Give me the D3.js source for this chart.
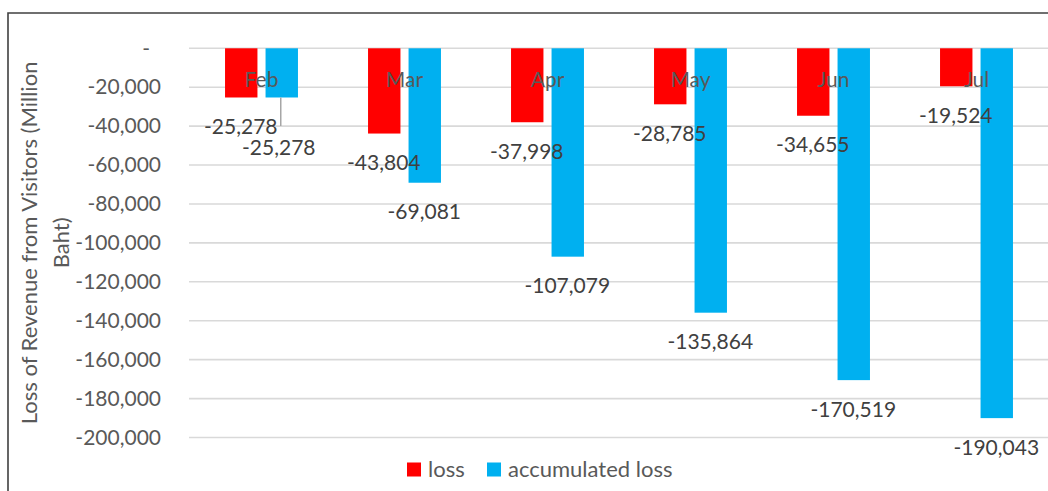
<!DOCTYPE html>
<html>
<head>
<meta charset="utf-8">
<script src="https://cdn.jsdelivr.net/npm/d3@7"></script>
<style>
  html, body { margin: 0; padding: 0; background: #fff; }
  svg { display: block; font-family: Lato, "Open Sans", sans-serif; }
</style>
</head>
<body>
<svg id="chart" width="1048" height="491"></svg>
<script>
// Monthly loss of revenue from visitors (million Baht)
const months = ["Feb", "Mar", "Apr", "May", "Jun", "Jul"];
const loss = [-25278, -43804, -37998, -28785, -34655, -19524];
const accumulatedLoss = [-25278, -69081, -107079, -135864, -170519, -190043];
const seriesNames = ["loss", "accumulated loss"];
const seriesColors = ["#ff0000", "#00b0f0"];
const yTicks = [0, -20000, -40000, -60000, -80000, -100000, -120000, -140000, -160000, -180000, -200000];

const W = 1048, H = 491;
const plot = { left: 190, right: 1048, top: 48.3, bottom: 437.5 };
const FS = 21;

const svg = d3.select("#chart");

// frame of the chart area
svg.append("path")
  .attr("d", `M8,${H} L8,13 L${W},13`)
  .attr("fill", "none")
  .attr("stroke", "#404040")
  .attr("stroke-width", 1.6);

const x0 = d3.scaleBand().domain(months)
  .range([plot.left, plot.right])
  .paddingInner(0.49).paddingOuter(0.245);
const x1 = d3.scaleBand().domain(seriesNames)
  .range([0, x0.bandwidth()])
  .paddingInner(0.2);
const y = d3.scaleLinear().domain([-200000, 0]).range([plot.bottom, plot.top]);

// plain hyphen for negatives, accounting-style dash for zero
const locale = d3.formatLocale({ decimal: ".", thousands: ",", grouping: [3], currency: ["", ""], minus: "-" });
const fmt = locale.format(",");
const tickText = v => v === 0 ? "-" : fmt(v);

// horizontal gridlines
svg.append("g")
  .selectAll("line")
  .data(yTicks)
  .join("line")
  .attr("x1", plot.left - 1).attr("x2", W)
  .attr("y1", d => y(d)).attr("y2", d => y(d))
  .attr("stroke", "#d9d9d9")
  .attr("stroke-width", 1.6);

// value axis labels
const yAxis = d3.axisLeft(y).tickValues(yTicks).tickFormat(tickText).tickSize(0).tickPadding(28);
const yg = svg.append("g").attr("transform", `translate(${plot.left - 1},0)`).call(yAxis);
yg.select(".domain").remove();
yg.selectAll("text")
  .attr("font-family", "Lato, sans-serif")
  .attr("font-size", FS)
  .attr("fill", "#595959")
  .attr("dx", d => d === 0 ? -11 : 0);

// axis title
const title = svg.append("text")
  .attr("transform", `translate(0,${(plot.top + plot.bottom) / 2}) rotate(-90)`)
  .attr("text-anchor", "middle")
  .attr("font-size", 22)
  .attr("fill", "#595959");
title.append("tspan").attr("x", 0).attr("y", 37).text("Loss of Revenue from Visitors (Million");
title.append("tspan").attr("x", 0).attr("y", 69).text("Baht)");

// bars
const series = [loss, accumulatedLoss];
const rows = months.map((m, i) => ({ month: m, values: series.map((s, k) => ({ key: seriesNames[k], color: seriesColors[k], value: s[i] })) }));

const groups = svg.append("g")
  .selectAll("g")
  .data(rows)
  .join("g")
  .attr("transform", d => `translate(${x0(d.month)},0)`);

groups.selectAll("rect")
  .data(d => d.values)
  .join("rect")
  .attr("x", d => x1(d.key))
  .attr("width", x1.bandwidth())
  .attr("y", y(0))
  .attr("height", d => y(d.value) - y(0))
  .attr("fill", d => d.color);

// category labels sit just under the zero line, over the bars
svg.append("g")
  .selectAll("text")
  .data(months)
  .join("text")
  .attr("x", d => x0(d) + x0.bandwidth() / 2)
  .attr("y", y(0) + 39)
  .attr("text-anchor", "middle")
  .attr("font-size", FS)
  .attr("fill", "#595959")
  .text(d => d);

// data labels below each bar end; the first accumulated label is pulled down with a leader line
const labelShift = (month, key) => (month === "Feb" && key === "accumulated loss") ? { dx: -3, dy: 21 } : { dx: -0.5, dy: 0 };

groups.selectAll("text.val")
  .data(d => d.values.map(v => Object.assign({ month: d.month }, v)))
  .join("text")
  .attr("class", "val")
  .attr("x", d => x1(d.key) + x1.bandwidth() / 2 + labelShift(d.month, d.key).dx)
  .attr("y", d => y(d.value) + 36.5 + labelShift(d.month, d.key).dy)
  .attr("text-anchor", "middle")
  .attr("font-size", FS)
  .attr("fill", "#404040")
  .text(d => fmt(d.value));

groups.filter(d => d.month === "Feb")
  .append("line")
  .attr("x1", x1("accumulated loss") + x1.bandwidth() / 2 - 1)
  .attr("x2", x1("accumulated loss") + x1.bandwidth() / 2 - 1)
  .attr("y1", y(accumulatedLoss[0]))
  .attr("y2", y(accumulatedLoss[0]) + 28.5)
  .attr("stroke", "#a6a6a6")
  .attr("stroke-width", 1.5);

// legend
const legend = svg.append("g").attr("font-size", 22).attr("fill", "#595959");
const legendX = [407, 487];
seriesNames.forEach((name, k) => {
  legend.append("rect")
    .attr("x", legendX[k]).attr("y", 462.5)
    .attr("width", 14).attr("height", 14)
    .attr("fill", seriesColors[k]);
  legend.append("text")
    .attr("x", legendX[k] + 21).attr("y", 476.5)
    .text(name);
});
</script>
</body>
</html>
